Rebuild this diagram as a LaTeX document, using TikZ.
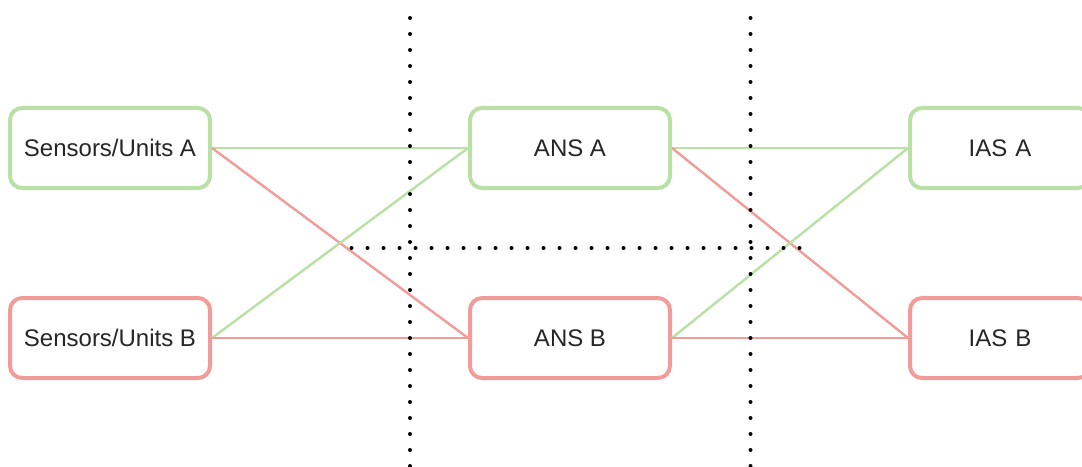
\documentclass[tikz,border=0pt]{standalone}
\usepackage{fontspec}
\setmainfont{Liberation Sans}
\definecolor{okgreen}{HTML}{B9E0A5}
\definecolor{okred}{HTML}{F19C99}
\definecolor{txt}{HTML}{262626}
\begin{document}
\begin{tikzpicture}[x=0.75pt,y=-0.75pt,
  unit/.style={draw, rounded corners=9pt, line width=3pt, fill=white,
    minimum width=150pt, minimum height=60pt, inner sep=0pt,
    text=txt, font=\fontsize{18pt}{21pt}\selectfont},
  gunit/.style={unit, draw=okgreen},
  runit/.style={unit, draw=okred},
  glink/.style={draw=okgreen, line width=1.8pt},
  rlink/.style={draw=okred, line width=1.8pt},
  zone/.style={draw=black, line width=3pt, line cap=round,
    dash pattern=on 0pt off 12pt}]
\clip (0,0) rectangle (1082,467);
\useasboundingbox (0,0) rectangle (1082,467);

% units
\node[gunit] (sa) at (110,148) {Sensors/Units A};
\node[runit] (sb) at (110,338) {Sensors/Units B};
\node[gunit] (aa) at (570,148) {ANS A};
\node[runit] (ab) at (570,338) {ANS B};
\node[gunit, minimum width=135pt, text width=130pt, align=center] (ia) at (1000,148) {IAS A};
\node[runit, minimum width=135pt, text width=130pt, align=center] (ib) at (1000,338) {IAS B};

% redundant links
\draw[glink] (sa.east) -- (aa.west);
\draw[rlink] (sa.east) -- (ab.west);
\draw[glink] (sb.east) -- (aa.west);
\draw[rlink] (sb.east) -- (ab.west);
\draw[glink] (aa.east) -- (ia.west);
\draw[rlink] (aa.east) -- (ib.west);
\draw[glink] (ab.east) -- (ia.west);
\draw[rlink] (ab.east) -- (ib.west);

% zone boundaries
\coordinate (v1t) at (410,18);
\coordinate (v1b) at (410,480);
\coordinate (v2t) at (750.5,18);
\coordinate (v2b) at (750.5,480);
\coordinate (hl) at (351.5,248);
\coordinate (hr) at (805,248);
\draw[zone] (v1t) -- (v1b);
\draw[zone] (v2t) -- (v2b);
\draw[zone] (hl) -- (hr);
\end{tikzpicture}
\end{document}
